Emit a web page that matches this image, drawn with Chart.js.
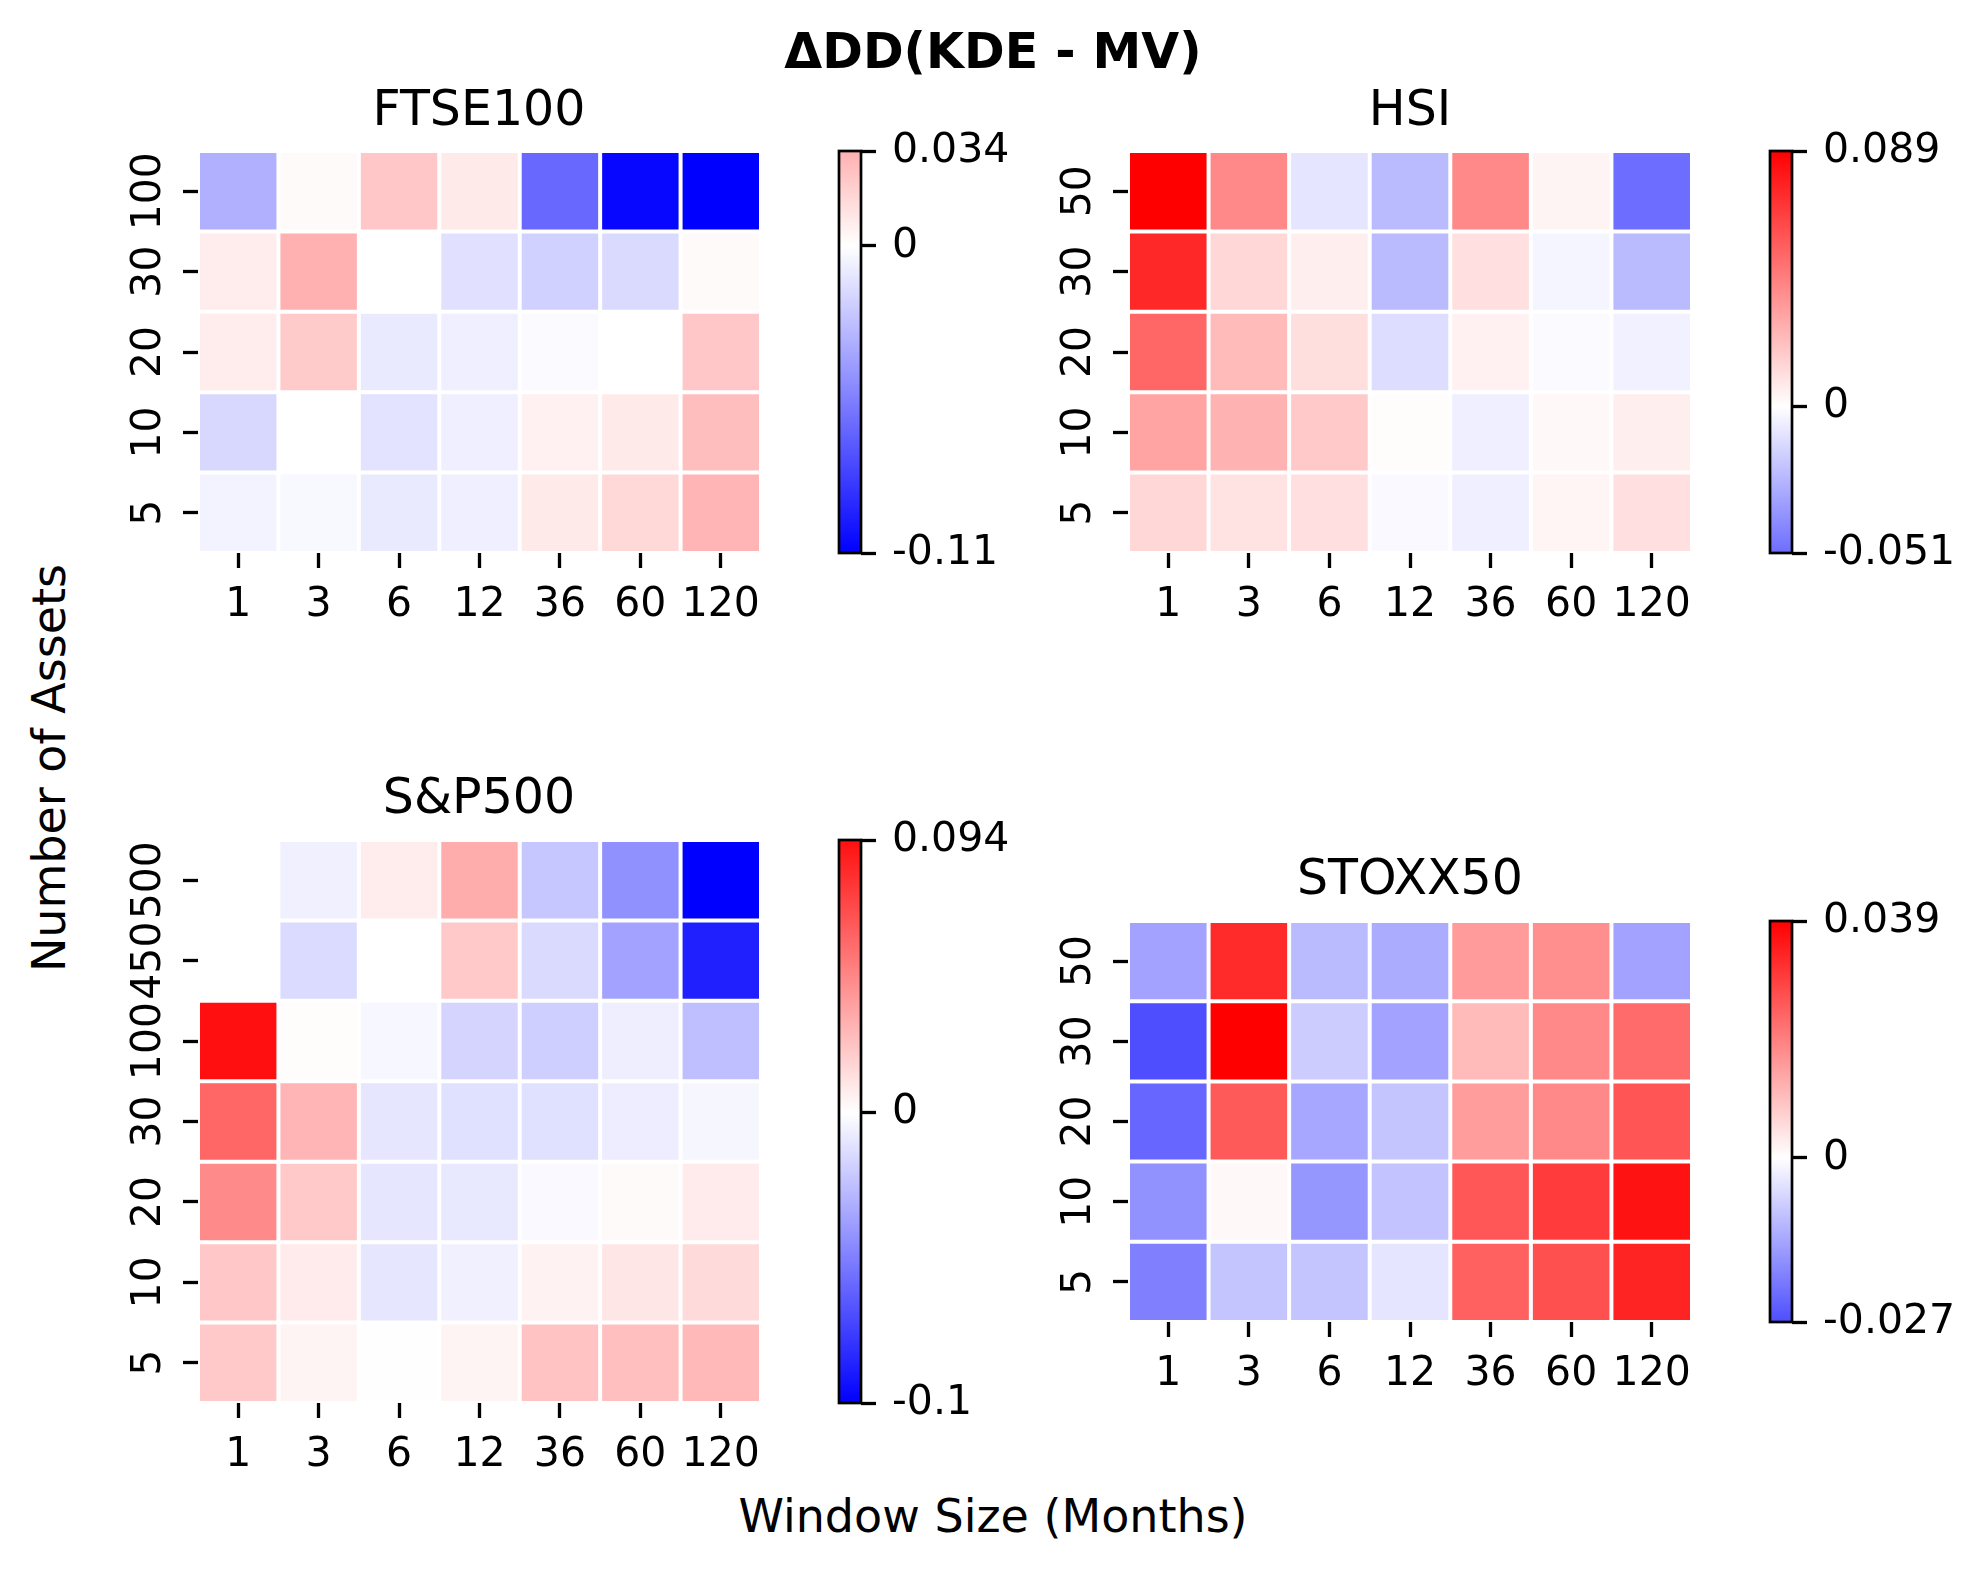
<!DOCTYPE html>
<html>
<head>
<meta charset="utf-8">
<script src="https://cdn.jsdelivr.net/npm/chart.js@4.4.1/dist/chart.umd.min.js"></script>
<style>
	html, body { margin: 0; padding: 0; background: #fff; }
	#figure { position: relative; width: 1984px; height: 1571px; overflow: hidden; background: #fff; font-family: 'DejaVu Sans', sans-serif; color: #000; }
	.label { position: absolute; line-height: 1; white-space: nowrap; transform: translateX(-50%); }
	.suptitle { font-weight: bold; font-size: 49px; }
	.subtitle { font-size: 49px; }
	.suplabel { font-size: 46px; }
	.ylabel { transform: translate(-50%, -50%) rotate(-90deg); }
</style>
</head>
<body>
<div id="figure">
	<div class="label suptitle" style="left: 993px; top: 27px;">ΔDD(KDE - MV)</div>
	<div class="label subtitle" style="left: 479px; top: 84px;">FTSE100</div>
	<div class="label subtitle" style="left: 1410px; top: 84px;">HSI</div>
	<div class="label subtitle" style="left: 479px; top: 772px;">S&amp;P500</div>
	<div class="label subtitle" style="left: 1410px; top: 853px;">STOXX50</div>
	<div class="label suplabel" style="left: 993px; top: 1493px;">Window Size (Months)</div>
	<div class="label suplabel ylabel" style="left: 49px; top: 768px;">Number of Assets</div>
</div>
<script>
// window sizes (x categories), shared by all four panels
const windowLabels = ['1', '3', '6', '12', '36', '60', '120'];

// rows are listed top to bottom, as drawn
const ftseRows = ['100', '30', '20', '10', '5'];
const ftseValues = [
	[-0.034, 0.002, 0.024, 0.009, -0.065, -0.107, -0.11],
	[0.008, 0.034, 0.0, -0.013, -0.02, -0.016, 0.002],
	[0.008, 0.023, -0.009, -0.007, -0.002, 0.0, 0.024],
	[-0.017, 0.0, -0.012, -0.007, 0.006, 0.009, 0.028],
	[-0.005, -0.003, -0.009, -0.007, 0.009, 0.017, 0.032],
];
const ftseTicks = [-0.11, 0, 0.034];
const ftseTickLabels = ['-0.11', '0', '0.034'];

const hsiRows = ['50', '30', '20', '10', '5'];
const hsiValues = [
	[0.089, 0.0415, -0.009, -0.024, 0.0415, 0.004, -0.051],
	[0.075, 0.014, 0.006, -0.024, 0.011, -0.0035, -0.024],
	[0.053, 0.024, 0.0115, -0.012, 0.005, -0.0015, -0.005],
	[0.032, 0.027, 0.019, 0.001, -0.0055, 0.0025, 0.006],
	[0.014, 0.010, 0.011, -0.002, -0.0055, 0.0035, 0.011],
];
const hsiTicks = [-0.051, 0, 0.089];
const hsiTickLabels = ['-0.051', '0', '0.089'];

const spRows = ['500', '450', '100', '30', '20', '10', '5'];
const spValues = [
	[null, -0.006, 0.007, 0.0325, -0.022, -0.0435, -0.1],
	[null, -0.014, 0.0, 0.021, -0.0145, -0.036, -0.0875],
	[0.094, 0.001, -0.003, -0.017, -0.019, -0.0065, -0.025],
	[0.06, 0.029, -0.01, -0.012, -0.012, -0.007, -0.0035],
	[0.046, 0.021, -0.01, -0.009, -0.0025, 0.002, 0.008],
	[0.022, 0.008, -0.01, -0.006, 0.005, 0.010, 0.0145],
	[0.021, 0.0045, 0.0005, 0.0045, 0.0235, 0.025, 0.0275],
];
const spTicks = [-0.1, 0, 0.094];
const spTickLabels = ['-0.1', '0', '0.094'];

const stoxxRows = ['50', '30', '20', '10', '5'];
const stoxxValues = [
	[-0.014, 0.0326, -0.0106, -0.0127, 0.0153, 0.0173, -0.014],
	[-0.027, 0.039, -0.0078, -0.014, 0.0105, 0.0182, 0.0228],
	[-0.0232, 0.0252, -0.0135, -0.009, 0.0151, 0.018, 0.026],
	[-0.0167, 0.001, -0.016, -0.0092, 0.0257, 0.030, 0.0362],
	[-0.0195, -0.009, -0.009, -0.004, 0.0243, 0.0268, 0.0335],
];
const stoxxTicks = [-0.027, 0, 0.039];
const stoxxTickLabels = ['-0.027', '0', '0.039'];

Chart.defaults.font.family = "'DejaVu Sans', sans-serif";
Chart.defaults.font.size = 41;
Chart.defaults.color = '#000';

const TICK_FONT = "41px 'DejaVu Sans'";
const PAD = { left: 20, top: 60, right: 50, bottom: 10 };
const Y_AXIS_W = 90;
const X_AXIS_H = 80;
const CBAR_AXIS_W = 190;
const CBAR_PAD = 60;

// seaborn bwr centred on 0: colour range is symmetric about zero
const bwr = (value, range) => {
	const t = Math.max(-1, Math.min(1, value / range));
	if (t < 0) {
		const c = Math.round(255 * (1 + t));
		return `rgb(${c}, ${c}, 255)`;
	}
	const c = Math.round(255 * (1 - t));
	return `rgb(255, ${c}, ${c})`;
};

const measure = document.createElement('canvas').getContext('2d');
measure.font = TICK_FONT;

const makeCanvas = (box) => {
	const canvas = document.createElement('canvas');
	canvas.width = box.width;
	canvas.height = box.height;
	Object.assign(canvas.style, {
		position: 'absolute',
		left: `${box.left}px`,
		top: `${box.top}px`,
		width: `${box.width}px`,
		height: `${box.height}px`,
	});
	document.getElementById('figure').appendChild(canvas);
	return canvas;
};

const tickGrid = { drawOnChartArea: false, tickLength: 15, tickWidth: 3.3, tickColor: '#000' };

const drawHeatmap = (rows, values, ticks, area) => {
	const range = Math.max(Math.abs(ticks[0]), Math.abs(ticks[ticks.length - 1]));
	const widest = Math.max(...rows.map((row) => measure.measureText(row).width));
	const canvas = makeCanvas({
		left: area.left - Y_AXIS_W - PAD.left,
		top: area.top - PAD.top,
		width: PAD.left + Y_AXIS_W + area.width + PAD.right,
		height: PAD.top + area.height + X_AXIS_H + PAD.bottom,
	});

	const datasets = rows.map((row, i) => ({
		label: row,
		data: values[i].map((v) => (v === null ? null : [i - 0.5, i + 0.5])),
		backgroundColor: values[i].map((v) => (v === null ? 'rgba(0,0,0,0)' : bwr(v, range))),
		borderColor: '#fff',
		borderWidth: 2,
		borderSkipped: false,
		inflateAmount: 0,
		barPercentage: 1,
		categoryPercentage: 1,
		grouped: false,
	}));

	return new Chart(canvas, {
		type: 'bar',
		data: { labels: windowLabels, datasets },
		options: {
			responsive: false,
			animation: false,
			devicePixelRatio: 1,
			layout: { padding: PAD },
			plugins: { legend: { display: false }, tooltip: { enabled: false } },
			scales: {
				x: {
					type: 'category',
					offset: true,
					grid: { ...tickGrid, offset: false },
					border: { display: false },
					ticks: { padding: 13, autoSkip: false, maxRotation: 0 },
					afterFit: (scale) => { scale.height = X_AXIS_H; },
				},
				y: {
					type: 'linear',
					reverse: true,
					min: -0.5,
					max: rows.length - 0.5,
					grid: tickGrid,
					border: { display: false },
					afterBuildTicks: (scale) => { scale.ticks = rows.map((_, i) => ({ value: i })); },
					ticks: {
						callback: (value) => rows[value],
						minRotation: 90,
						maxRotation: 90,
						crossAlign: 'center',
						padding: 49 - 15 - widest / 2,
					},
					afterFit: (scale) => { scale.width = Y_AXIS_W; },
				},
			},
		},
	});
};

const outline = {
	id: 'outline',
	afterDatasetsDraw(chart) {
		const { ctx, chartArea } = chart;
		ctx.save();
		ctx.strokeStyle = '#000';
		ctx.lineWidth = 2.7;
		ctx.strokeRect(chartArea.left, chartArea.top, chartArea.right - chartArea.left, chartArea.bottom - chartArea.top);
		ctx.restore();
	},
};

const drawColorbar = (ticks, tickLabels, area) => {
	const min = ticks[0];
	const max = ticks[ticks.length - 1];
	const range = Math.max(Math.abs(min), Math.abs(max));
	const canvas = makeCanvas({
		left: area.left - 10,
		top: area.top - CBAR_PAD,
		width: 10 + area.width + CBAR_AXIS_W + 10,
		height: area.height + 2 * CBAR_PAD,
	});

	const gradient = (context) => {
		const { chart } = context;
		if (!chart.chartArea) {
			return null;
		}
		const y = chart.scales.y;
		const g = chart.ctx.createLinearGradient(0, y.getPixelForValue(max), 0, y.getPixelForValue(min));
		g.addColorStop(0, bwr(max, range));
		g.addColorStop(max / (max - min), '#fff');
		g.addColorStop(1, bwr(min, range));
		return g;
	};

	return new Chart(canvas, {
		type: 'bar',
		data: {
			labels: [''],
			datasets: [{
				data: [[min, max]],
				backgroundColor: gradient,
				borderWidth: 0,
				inflateAmount: 0,
				barPercentage: 1,
				categoryPercentage: 1,
			}],
		},
		options: {
			responsive: false,
			animation: false,
			devicePixelRatio: 1,
			layout: { padding: { left: 10, right: 10, top: CBAR_PAD, bottom: CBAR_PAD } },
			plugins: { legend: { display: false }, tooltip: { enabled: false } },
			scales: {
				x: { display: false },
				y: {
					position: 'right',
					min,
					max,
					grid: tickGrid,
					border: { display: false },
					afterBuildTicks: (scale) => { scale.ticks = ticks.map((value) => ({ value })); },
					ticks: { callback: (value, index) => tickLabels[index], padding: 16 },
					afterFit: (scale) => { scale.width = CBAR_AXIS_W; },
				},
			},
		},
		plugins: [outline],
	});
};

drawHeatmap(ftseRows, ftseValues, ftseTicks, { left: 198, top: 151, width: 563, height: 402 });
drawColorbar(ftseTicks, ftseTickLabels, { left: 839, top: 151, width: 22, height: 402 });

drawHeatmap(hsiRows, hsiValues, hsiTicks, { left: 1128, top: 151, width: 564, height: 402 });
drawColorbar(hsiTicks, hsiTickLabels, { left: 1770, top: 151, width: 22, height: 402 });

drawHeatmap(spRows, spValues, spTicks, { left: 198, top: 840, width: 563, height: 563 });
drawColorbar(spTicks, spTickLabels, { left: 839, top: 840, width: 22, height: 563 });

drawHeatmap(stoxxRows, stoxxValues, stoxxTicks, { left: 1128, top: 921, width: 564, height: 401 });
drawColorbar(stoxxTicks, stoxxTickLabels, { left: 1770, top: 921, width: 22, height: 401 });
</script>
</body>
</html>
